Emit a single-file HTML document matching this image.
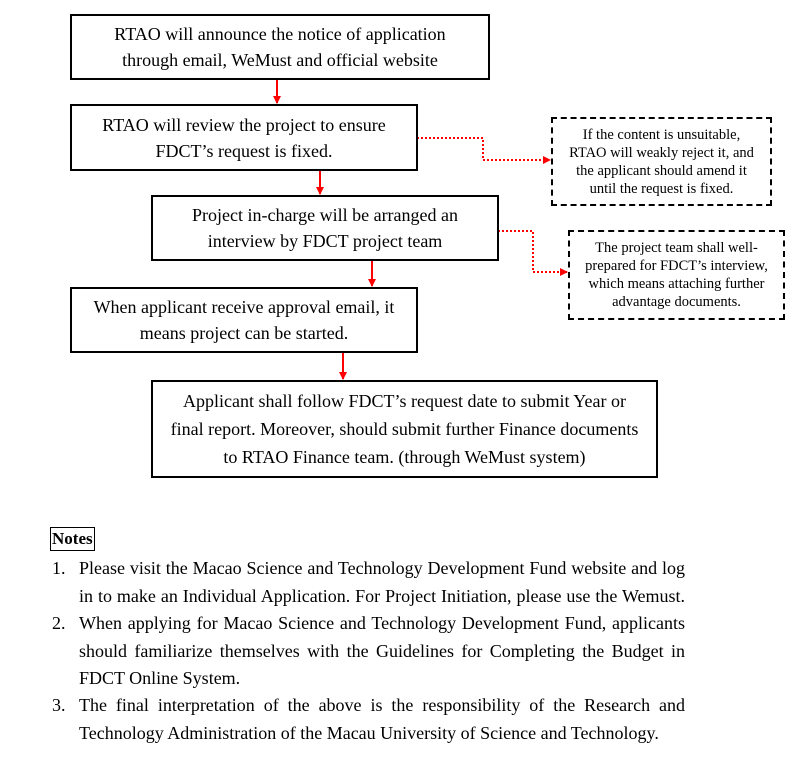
<!DOCTYPE html>
<html><head><meta charset="utf-8"><style>
body{margin:0;width:796px;height:764px;background:#fff;position:relative;overflow:hidden;font-family:"Liberation Serif",serif;color:#000}
.b{position:absolute;border:2px solid #000;box-sizing:border-box;display:flex;align-items:center;justify-content:center;text-align:center;font-size:18px;line-height:26px}
.d{position:absolute;border:2px dashed #000;box-sizing:border-box;display:flex;align-items:center;justify-content:center;text-align:center;font-size:14.5px;line-height:18px}
.n{position:absolute;font-size:18px;line-height:27.5px;left:52px}
.n .r{position:absolute;left:27px;top:0;width:606px}
.j{text-align:justify;text-align-last:justify;white-space:nowrap}
</style></head><body>
<svg width="796" height="764" style="position:absolute;left:0;top:0">
<defs><marker id="a" markerWidth="8" markerHeight="8" refX="7" refY="4" orient="auto" markerUnits="userSpaceOnUse"><path d="M0,0L8,4L0,8z" fill="#f00"/></marker></defs>
<g stroke="#f00" stroke-width="2" fill="none">
<line x1="277" y1="79" x2="277" y2="103" marker-end="url(#a)"/>
<line x1="320" y1="170" x2="320" y2="194" marker-end="url(#a)"/>
<line x1="372" y1="260" x2="372" y2="286" marker-end="url(#a)"/>
<line x1="343" y1="352" x2="343" y2="379" marker-end="url(#a)"/>
<polyline points="417,138 483,138 483,160 550,160" stroke-dasharray="2,2" marker-end="url(#a)"/>
<polyline points="498,231 533,231 533,272 567,272" stroke-dasharray="2,2" marker-end="url(#a)"/>
</g></svg>
<div class="b" style="left:70px;top:14px;width:420px;height:66px">RTAO will announce the notice of application<br>through email, WeMust and official website</div>
<div class="b" style="left:70px;top:104px;width:348px;height:67px">RTAO will review the project to ensure<br>FDCT’s request is fixed.</div>
<div class="b" style="left:151px;top:195px;width:348px;height:66px">Project in-charge will be arranged an<br>interview by FDCT project team</div>
<div class="b" style="left:70px;top:287px;width:348px;height:66px">When applicant receive approval email, it<br>means project can be started.</div>
<div class="b" style="left:151px;top:380px;width:507px;height:98px;line-height:28px">Applicant shall follow FDCT’s request date to submit Year or<br>final report. Moreover, should submit further Finance documents<br>to RTAO Finance team. (through WeMust system)</div>
<div class="d" style="left:551px;top:117px;width:221px;height:89px">If the content is unsuitable,<br>RTAO will weakly reject it, and<br>the applicant should amend it<br>until the request is fixed.</div>
<div class="d" style="left:568px;top:230px;width:217px;height:90px">The project team shall well-<br>prepared for FDCT’s interview,<br>which means attaching further<br>advantage documents.</div>
<div style="position:absolute;left:50px;top:527px;border:1px solid #000;padding:0 1px;font-weight:bold;font-size:17px;line-height:22px">Notes</div>
<div class="n" style="top:555px">1.<div class="r"><div class="j">Please visit the Macao Science and Technology Development Fund website and log</div><div class="j">in to make an Individual Application. For Project Initiation, please use the Wemust.</div></div></div>
<div class="n" style="top:610px">2.<div class="r"><div class="j">When applying for Macao Science and Technology Development Fund, applicants</div><div class="j">should familiarize themselves with the Guidelines for Completing the Budget in</div><div>FDCT Online System.</div></div></div>
<div class="n" style="top:692px">3.<div class="r"><div class="j">The final interpretation of the above is the responsibility of the Research and</div><div>Technology Administration of the Macau University of Science and Technology.</div></div></div>
</body></html>
